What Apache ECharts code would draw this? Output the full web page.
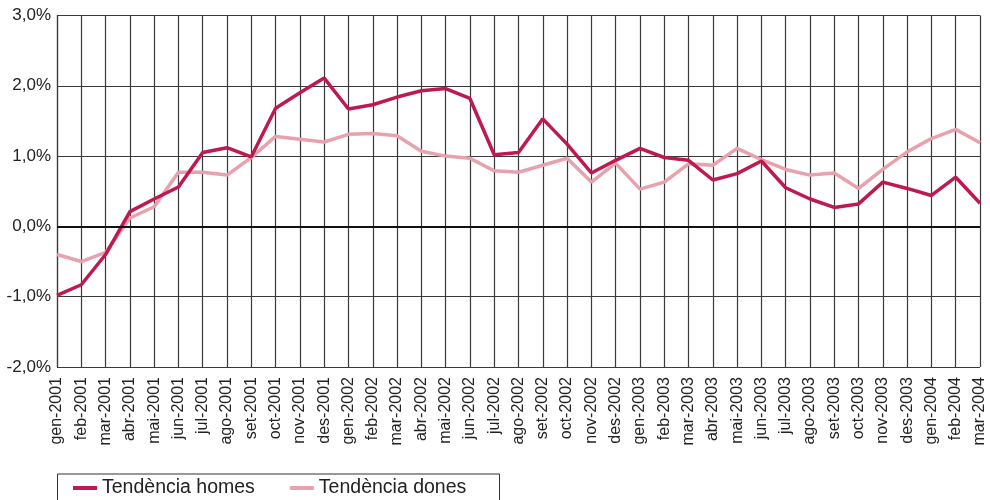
<!DOCTYPE html>
<html>
<head>
<meta charset="utf-8">
<script src="https://cdn.jsdelivr.net/npm/echarts@6/dist/echarts.min.js"></script>
<style>html,body{margin:0;padding:0;background:#fff;}#c{width:990px;height:500px;}</style>
</head>
<body>
<div id="c"></div>
<script>
const categories = ['gen-2001','feb-2001','mar-2001','abr-2001','mai-2001','jun-2001','jul-2001','ago-2001','set-2001','oct-2001','nov-2001','des-2001',
'gen-2002','feb-2002','mar-2002','abr-2002','mai-2002','jun-2002','jul-2002','ago-2002','set-2002','oct-2002','nov-2002','des-2002',
'gen-2003','feb-2003','mar-2003','abr-2003','mai-2003','jun-2003','jul-2003','ago-2003','set-2003','oct-2003','nov-2003','des-2003',
'gen-2004','feb-2004','mar-2004'];
const homes = [-0.98,-0.83,-0.40,0.21,0.39,0.56,1.05,1.12,0.99,1.68,1.90,2.11,
1.67,1.73,1.84,1.93,1.96,1.82,1.02,1.05,1.53,1.17,0.76,0.94,
1.11,0.98,0.94,0.66,0.75,0.93,0.55,0.39,0.27,0.32,0.63,0.54,
0.44,0.70,0.33];
const dones = [-0.40,-0.50,-0.37,0.12,0.28,0.77,0.77,0.73,0.98,1.28,1.24,1.20,
1.31,1.32,1.29,1.07,1.00,0.97,0.79,0.77,0.87,0.97,0.63,0.90,
0.53,0.63,0.89,0.87,1.11,0.95,0.81,0.73,0.76,0.54,0.81,1.06,
1.25,1.38,1.19];
const seriesNames = ['Tendència homes','Tendència dones'];
const colors = ['#BF1A50','#E7A2AD'];
const font = 'Liberation Sans, Arial, Helvetica, sans-serif';

const chart = echarts.init(document.getElementById('c'), null, {renderer:'canvas'});
chart.setOption({
  animation: false,
  backgroundColor: '#fff',
  textStyle: {fontFamily: font},
  grid: {left: 57, right: 10, top: 15.5, bottom: 133, containLabel: false},
  graphic: [{
    type: 'rect', left: 55, top: 471.5,
    shape: {width: 442, height: 40},
    style: {fill: 'none', stroke: '#333', lineWidth: 1}, z: 10
  }],
  legend: {
    left: 68, top: 473,
    icon: 'rect', itemWidth: 24, itemHeight: 4, itemGap: 35,
    textStyle: {fontFamily: font, fontSize: 19.5, color: '#222'},
    data: seriesNames
  },
  xAxis: {
    type: 'category', data: categories, boundaryGap: false,
    axisLine: {show: false},
    axisTick: {show: false},
    axisLabel: {interval: 0, rotate: 90, margin: 10, fontSize: 16, color: '#222', fontFamily: font},
    splitLine: {show: true, interval: 0, lineStyle: {color: '#3a3a3a', width: 1.2}}
  },
  yAxis: {
    type: 'value', min: -2, max: 3, interval: 1,
    axisLine: {show: true, lineStyle: {color: '#3a3a3a', width: 1.2}},
    axisTick: {show: false},
    axisLabel: {margin: 6, fontSize: 17, color: '#222', fontFamily: font,
      formatter: v => v.toFixed(1).replace('.', ',') + '%'},
    splitLine: {show: true, lineStyle: {color: '#3a3a3a', width: 1.2}}
  },
  series: [
    {name: seriesNames[0], type: 'line', data: homes, symbol: 'none', z: 3,
     lineStyle: {color: colors[0], width: 3.5}, itemStyle: {color: colors[0]},
     markLine: {silent: true, symbol: 'none', label: {show: false},
       lineStyle: {color: '#111', width: 2, type: 'solid'}, data: [{yAxis: 0}]}},
    {name: seriesNames[1], type: 'line', data: dones, symbol: 'none', z: 2,
     lineStyle: {color: colors[1], width: 3.5}, itemStyle: {color: colors[1]}}
  ]
});
</script>
</body>
</html>
